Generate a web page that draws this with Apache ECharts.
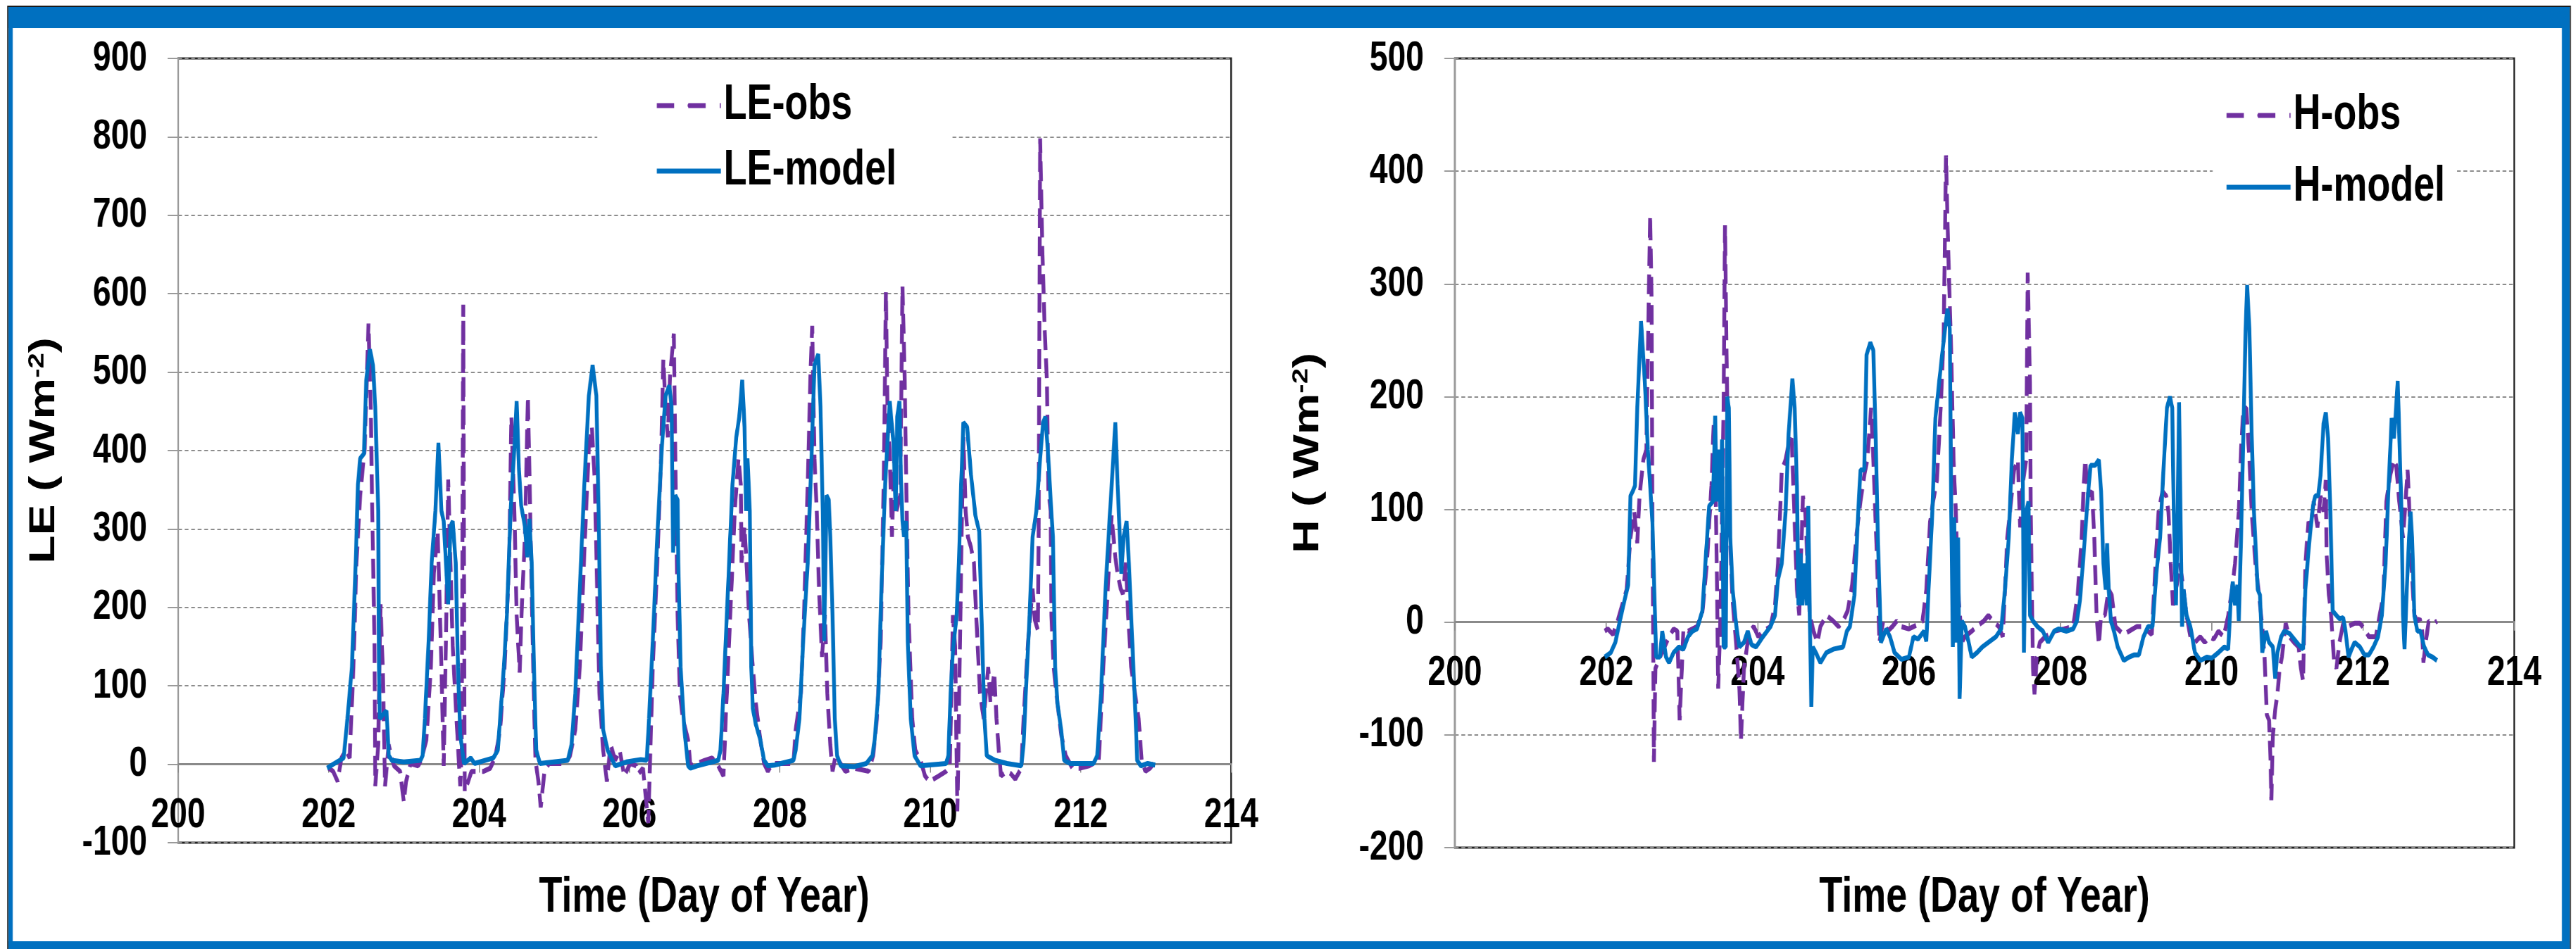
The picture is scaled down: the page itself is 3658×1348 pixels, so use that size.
<!DOCTYPE html>
<html>
<head>
<meta charset="utf-8">
<title>LE / H observed vs model</title>
<script src="https://cdn.jsdelivr.net/npm/echarts@6/dist/echarts.min.js"></script>
<style>
    html, body { margin: 0; padding: 0; background: #ffffff; overflow: hidden; }
    /* la figura original esta comprimida en horizontal: se dibuja ancha y se estrecha */
    #chart { width: 4751px; height: 1348px; transform: scaleX(0.77); transform-origin: 0 0; }
</style>
</head>
<body>
<div id="chart"></div>
<script>
/* datos: [dia del ano, valor W m-2] */
const leObs = [
    [202.00,-5],[202.06,-9],[202.12,-22],[202.17,8],[202.23,18],[202.28,8],[202.33,124],[202.37,257],[202.42,343],[202.48,403],[202.53,562],[202.56,456],[202.58,323],[202.61,157],[202.62,-28],[202.66,25],[202.69,204],[202.72,124],[202.75,-28],[202.80,25],[202.83,11],[202.87,-2],[202.95,-9],[203.00,-48],[203.03,-22],[203.09,1],[203.19,-2],[203.23,5],[203.30,31],[203.36,124],[203.40,244],[203.45,297],[203.50,124],[203.53,-2],[203.56,157],[203.59,363],[203.62,257],[203.65,151],[203.70,58],[203.75,-28],[203.77,20],[203.79,586],[203.81,-35],[203.90,-9],[204.06,-9],[204.15,-5],[204.22,11],[204.28,44],[204.34,124],[204.40,257],[204.43,443],[204.47,323],[204.50,190],[204.54,117],[204.57,204],[204.61,290],[204.65,469],[204.68,323],[204.72,124],[204.75,5],[204.79,-22],[204.82,-55],[204.87,-9],[204.93,1],[205.15,1],[205.21,11],[205.28,44],[205.34,124],[205.40,270],[205.46,403],[205.50,430],[205.54,357],[205.57,224],[205.60,91],[205.65,18],[205.70,-22],[205.75,25],[205.81,5],[205.87,18],[205.93,-15],
    [206.01,1],[206.09,-2],[206.12,-12],[206.18,-5],[206.25,-75],[206.31,124],[206.37,257],[206.42,390],[206.45,516],[206.48,456],[206.51,417],[206.54,496],[206.59,549],[206.61,390],[206.64,190],[206.67,91],[206.71,58],[206.78,31],[206.81,-2],[206.90,1],[207.00,5],[207.10,8],[207.18,-2],[207.25,-15],[207.28,58],[207.34,190],[207.40,323],[207.45,390],[207.48,357],[207.49,257],[207.53,303],[207.56,250],[207.59,190],[207.64,124],[207.68,78],[207.74,31],[207.79,1],[207.84,-9],[207.90,1],[208.06,1],[208.18,1],[208.21,44],[208.28,91],[208.32,190],[208.37,357],[208.41,509],[208.43,559],[208.46,390],[208.49,323],[208.52,224],[208.56,137],[208.60,190],[208.63,91],[208.67,25],[208.70,-9],[208.74,11],[208.87,-9],[208.99,-5],[209.18,-9],[209.24,11],[209.29,58],[209.34,157],[209.38,357],[209.41,602],[209.43,456],[209.46,397],[209.49,290],[209.52,390],[209.55,323],[209.60,343],[209.63,609],[209.66,490],[209.68,357],[209.71,190],[209.76,58],[209.80,18],[209.87,5],[209.93,-15],[209.99,-22],
    [210.11,-15],[210.21,-9],[210.26,-2],[210.30,190],[210.33,151],[210.36,-60],[210.38,58],[210.41,257],[210.44,417],[210.47,323],[210.50,290],[210.54,277],[210.58,257],[210.61,190],[210.66,91],[210.71,58],[210.77,124],[210.80,78],[210.85,117],[210.88,58],[210.91,18],[210.94,-15],[211.02,-9],[211.07,-12],[211.13,-19],[211.21,-5],[211.24,58],[211.30,157],[211.36,224],[211.39,184],[211.43,171],[211.44,290],[211.46,798],[211.49,655],[211.52,556],[211.55,489],[211.57,350],[211.60,323],[211.61,190],[211.64,124],[211.69,78],[211.74,38],[211.80,11],[211.89,-5],[211.99,-5],[212.11,-2],[212.24,5],[212.30,124],[212.36,224],[212.41,317],[212.46,264],[212.49,243],[212.53,224],[212.56,217],[212.60,257],[212.63,190],[212.67,124],[212.72,91],[212.77,58],[212.81,5],[212.86,-9],[212.92,-5],[212.97,1]
];

const leModel = [
    [201.98,-5],[202.06,0],[202.20,8],[202.25,58],[202.31,124],[202.36,257],[202.39,357],[202.42,390],[202.47,396],[202.50,489],[202.55,529],[202.59,509],[202.62,456],[202.66,323],[202.67,124],[202.68,58],[202.73,64],[202.77,68],[202.80,11],[202.84,5],[203.00,3],[203.22,5],[203.25,11],[203.28,58],[203.33,157],[203.37,257],[203.42,323],[203.46,410],[203.50,323],[203.53,310],[203.56,257],[203.59,204],[203.62,303],[203.65,310],[203.69,257],[203.72,124],[203.75,38],[203.80,1],[203.89,8],[203.94,1],[204.19,8],[204.25,18],[204.28,58],[204.33,124],[204.37,190],[204.42,323],[204.47,403],[204.50,463],[204.53,377],[204.56,330],[204.61,303],[204.64,264],[204.67,313],[204.70,257],[204.73,124],[204.76,18],[204.81,1],[205.18,5],[205.23,25],[205.28,91],[205.34,224],[205.40,357],[205.46,470],[205.51,509],[205.56,470],[205.59,323],[205.62,124],[205.65,44],[205.71,18],[205.81,-2],[205.96,3],
    [206.15,6],[206.23,5],[206.26,58],[206.31,157],[206.37,290],[206.43,403],[206.48,470],[206.53,483],[206.56,456],[206.58,270],[206.61,343],[206.64,337],[206.65,257],[206.68,124],[206.73,44],[206.78,-2],[206.81,-5],[206.90,-2],[207.18,5],[207.21,18],[207.25,91],[207.31,224],[207.37,357],[207.42,417],[207.46,443],[207.50,490],[207.53,430],[207.55,323],[207.57,390],[207.60,323],[207.62,124],[207.64,71],[207.68,51],[207.74,31],[207.79,5],[207.84,-2],[207.93,-1],[208.18,5],[208.21,18],[208.26,58],[208.31,157],[208.37,257],[208.42,390],[208.46,509],[208.51,523],[208.54,456],[208.57,323],[208.59,157],[208.62,343],[208.65,337],[208.67,290],[208.70,190],[208.73,58],[208.76,11],[208.81,-2],[208.99,-3],[209.15,1],[209.23,11],[209.26,31],[209.31,91],[209.35,224],[209.40,357],[209.46,463],[209.51,410],[209.54,323],[209.56,443],[209.59,463],[209.61,363],[209.63,310],[209.65,290],[209.68,310],[209.70,157],[209.74,58],[209.79,11],[209.87,-2],
    [210.21,1],[210.24,11],[210.27,91],[210.30,144],[210.35,190],[210.38,257],[210.41,357],[210.44,436],[210.49,430],[210.54,370],[210.60,317],[210.65,297],[210.68,190],[210.72,58],[210.75,11],[210.86,5],[211.02,1],[211.21,-2],[211.24,25],[211.27,91],[211.32,190],[211.36,290],[211.41,323],[211.46,390],[211.50,436],[211.53,443],[211.57,390],[211.60,337],[211.63,290],[211.66,124],[211.69,78],[211.74,44],[211.78,5],[211.86,1],[212.17,1],[212.22,11],[212.27,91],[212.33,224],[212.39,323],[212.42,370],[212.46,436],[212.49,357],[212.52,290],[212.54,243],[212.57,290],[212.61,310],[212.64,257],[212.67,190],[212.70,124],[212.73,58],[212.75,5],[212.80,-2],[212.89,1],[212.99,-1]
];

const hObs = [
    [201.98,-8],[202.02,-6],[202.09,-11],[202.15,1],[202.21,15],[202.27,29],[202.32,75],[202.37,98],[202.41,70],[202.44,112],[202.49,144],[202.53,153],[202.55,237],[202.58,361],[202.60,283],[202.61,98],[202.63,-124],[202.65,-41],[202.71,-31],[202.77,-22],[202.83,-13],[202.89,-6],[202.94,-8],[202.97,-87],[202.99,-55],[203.02,-6],[203.08,-8],[203.14,-6],[203.20,-4],[203.27,8],[203.33,52],[203.39,121],[203.42,176],[203.44,144],[203.46,52],[203.48,-59],[203.51,6],[203.55,190],[203.57,352],[203.59,237],[203.62,98],[203.67,19],[203.72,-22],[203.76,-59],[203.78,-105],[203.82,-41],[203.89,-8],[203.95,-4],[204.01,-13],[204.07,-8],[204.17,-4],[204.23,15],[204.27,52],[204.32,135],[204.37,144],[204.41,158],[204.45,163],[204.48,107],[204.52,29],[204.55,6],[204.60,112],[204.63,98],[204.66,52],[204.69,6],[204.74,-8],[204.79,-18],[204.83,-4],[204.91,6],[205.00,1],[205.07,-4],[205.13,1],[205.19,10],[205.25,33],[205.31,79],[205.36,107],[205.41,130],[205.45,144],[205.50,190],[205.53,144],[205.58,52],[205.61,-18],[205.66,1],[205.72,-8],[205.78,-4],[205.84,1],[205.90,-4],
    [206.00,-6],[206.06,-4],[206.12,-2],[206.18,1],[206.23,29],[206.28,89],[206.32,107],[206.37,126],[206.42,190],[206.46,255],[206.49,414],[206.52,329],[206.56,237],[206.59,144],[206.62,98],[206.65,29],[206.70,-18],[206.74,-13],[206.83,-8],[206.93,-2],[206.99,1],[207.05,6],[207.11,1],[207.19,-4],[207.24,-13],[207.27,29],[207.30,75],[207.35,107],[207.39,135],[207.44,144],[207.47,84],[207.50,121],[207.55,144],[207.57,310],[207.60,213],[207.61,98],[207.63,6],[207.64,-41],[207.66,-64],[207.69,-31],[207.73,-18],[207.80,-13],[207.92,-8],[208.05,-6],[208.17,-4],[208.23,24],[208.28,70],[208.31,121],[208.33,144],[208.37,112],[208.42,116],[208.45,75],[208.48,6],[208.51,-20],[208.54,6],[208.59,6],[208.64,29],[208.68,24],[208.73,-4],[208.79,-8],[208.84,-11],[208.91,-8],[209.01,-4],[209.10,-4],[209.16,-8],[209.21,-11],[209.26,52],[209.30,98],[209.35,116],[209.40,112],[209.43,98],[209.46,52],[209.49,15],[209.54,33],[209.58,52],[209.63,29],[209.67,6],[209.72,-13],[209.78,-18],[209.85,-13],[209.91,-18],[209.97,-13],
    [210.03,-15],[210.09,-8],[210.16,-13],[210.22,6],[210.27,29],[210.31,52],[210.36,98],[210.39,153],[210.42,190],[210.46,190],[210.50,144],[210.53,98],[210.58,52],[210.62,29],[210.67,-4],[210.70,-31],[210.73,-82],[210.76,-87],[210.78,-124],[210.79,-158],[210.81,-101],[210.84,-78],[210.87,-64],[210.90,-41],[210.93,-31],[210.98,-1],[211.03,-13],[211.09,-18],[211.15,-22],[211.18,-41],[211.21,-52],[211.24,52],[211.28,89],[211.31,84],[211.35,107],[211.40,84],[211.44,112],[211.48,98],[211.51,126],[211.52,61],[211.55,24],[211.58,6],[211.62,-36],[211.65,-41],[211.69,-18],[211.74,-1],[211.80,-4],[211.89,-1],[211.96,-1],[212.02,-6],[212.08,-13],[212.17,-13],[212.27,24],[212.31,107],[212.36,130],[212.41,144],[212.44,139],[212.48,107],[212.53,75],[212.56,103],[212.59,135],[212.61,107],[212.64,52],[212.68,6],[212.72,1],[212.75,3],[212.78,-4],[212.80,-36],[212.83,-18],[212.87,1],[212.94,-1],[212.98,1]
];

const hModel = [
    [201.98,-31],[202.06,-27],[202.12,-18],[202.18,1],[202.24,19],[202.29,33],[202.32,112],[202.35,116],[202.38,121],[202.41,190],[202.46,267],[202.51,213],[202.55,153],[202.61,89],[202.66,-31],[202.71,-31],[202.74,-8],[202.79,-31],[202.83,-36],[202.89,-27],[202.96,-22],[203.02,-24],[203.08,-13],[203.14,-8],[203.20,-6],[203.27,10],[203.31,52],[203.36,103],[203.41,107],[203.44,183],[203.46,107],[203.48,153],[203.51,98],[203.53,162],[203.55,-22],[203.58,-22],[203.60,200],[203.62,190],[203.64,75],[203.67,29],[203.72,-4],[203.76,-22],[203.82,-18],[203.87,-8],[203.92,-20],[203.98,-22],[204.07,-13],[204.17,-4],[204.23,6],[204.27,38],[204.32,52],[204.37,98],[204.41,167],[204.46,216],[204.49,190],[204.52,121],[204.54,15],[204.57,61],[204.59,15],[204.62,52],[204.65,15],[204.67,103],[204.69,6],[204.71,-75],[204.73,-22],[204.77,-27],[204.83,-36],[204.91,-27],[205.00,-24],[205.13,-22],[205.18,-8],[205.22,-4],[205.28,24],[205.33,98],[205.36,135],[205.41,135],[205.44,237],[205.49,248],[205.53,241],[205.56,167],[205.59,75],[205.63,-18],[205.70,-6],[205.75,-13],[205.81,-27],[205.90,-33],
    [206.00,-31],[206.06,-13],[206.12,-15],[206.20,-8],[206.23,-17],[206.26,29],[206.31,98],[206.35,181],[206.40,213],[206.46,250],[206.51,278],[206.54,260],[206.56,98],[206.58,-22],[206.60,93],[206.62,-18],[206.65,75],[206.67,-68],[206.70,1],[206.74,-4],[206.79,-18],[206.83,-31],[206.90,-27],[206.97,-22],[207.05,-18],[207.15,-13],[207.22,-6],[207.27,29],[207.32,75],[207.36,144],[207.40,186],[207.44,167],[207.47,186],[207.50,181],[207.52,-27],[207.55,98],[207.58,107],[207.60,6],[207.64,1],[207.70,-4],[207.77,-8],[207.84,-18],[207.92,-8],[207.98,-6],[208.08,-8],[208.17,-6],[208.22,1],[208.26,19],[208.31,61],[208.36,107],[208.40,139],[208.46,139],[208.51,144],[208.54,116],[208.57,52],[208.60,29],[208.62,70],[208.64,29],[208.67,1],[208.71,-8],[208.76,-22],[208.84,-34],[208.91,-31],[208.98,-29],[209.04,-29],[209.10,-13],[209.16,-4],[209.22,-4],[209.27,43],[209.32,75],[209.36,130],[209.41,190],[209.45,200],[209.48,190],[209.50,98],[209.53,15],[209.55,89],[209.57,195],[209.59,98],[209.61,-4],[209.63,29],[209.67,6],[209.72,-4],[209.78,-27],[209.85,-34],[209.94,-31],
    [210.00,-32],[210.09,-27],[210.17,-22],[210.22,-24],[210.25,15],[210.28,36],[210.31,15],[210.34,33],[210.36,1],[210.39,75],[210.42,167],[210.45,260],[210.47,299],[210.50,260],[210.53,167],[210.56,98],[210.61,29],[210.64,24],[210.67,-27],[210.72,-8],[210.76,-18],[210.81,-22],[210.84,-50],[210.87,-27],[210.92,-13],[210.96,-8],[211.03,-10],[211.09,-15],[211.15,-20],[211.21,-24],[211.24,29],[211.29,70],[211.34,103],[211.37,112],[211.41,112],[211.44,130],[211.48,176],[211.51,186],[211.54,163],[211.57,98],[211.60,10],[211.65,6],[211.69,3],[211.74,4],[211.77,-8],[211.81,-31],[211.85,-24],[211.89,-18],[211.96,-22],[212.02,-29],[212.08,-29],[212.14,-22],[212.20,-13],[212.25,6],[212.30,52],[212.34,121],[212.38,181],[212.41,163],[212.43,181],[212.46,214],[212.48,167],[212.51,98],[212.53,6],[212.55,-24],[212.58,29],[212.61,75],[212.63,98],[212.65,75],[212.68,6],[212.72,-8],[212.76,-8],[212.81,-22],[212.86,-29],[212.92,-31],[212.98,-34]
];

/* ejes */
const dayMin = 200, dayMax = 214, dayStep = 2;
const leMin = -100, leMax = 900;
const hMin = -200, hMax = 500;
const yStep = 100;

const SX = 0.77;               // mismo valor que el scaleX del css
const ux = v => v / SX;        // px de pantalla -> px del lienzo sin comprimir
const H = 1348;

const OBS_COLOR = '#7030A0';
const MODEL_COLOR = '#0070C0';
const FRAME_COLOR = '#0070C0';
const FONT = '"Liberation Sans", Arial, sans-serif';
const OBS_DASH = [28, 12];
const LEGEND_DASH = [32, 26];

/* cajas de los dos paneles en px de pantalla */
const panels = [
    { left: 253, right: 1748, top: 83, bottom: 1197 },
    { left: 2066, right: 3570, top: 83, bottom: 1204 }
];

function makeGrid(p) {
    return {
        left: ux(p.left), right: ux(3658 - p.right), top: p.top, bottom: H - p.bottom,
        show: true, borderColor: '#222', borderWidth: 3
    };
}

/* el eje x va sobre la linea de cero */
function makeXAxis(i, yMin, yMax) {
    const p = panels[i];
    const zeroShift = (p.bottom - p.top) * (0 - yMin) / (yMax - yMin);
    return {
        type: 'value', gridIndex: i,
        min: dayMin, max: dayMax, interval: dayStep,
        offset: -zeroShift,
        axisLine: { onZero: false, lineStyle: { color: '#8a8a8a', width: 3 } },
        axisTick: { show: true, length: 12, lineStyle: { color: '#8a8a8a', width: 2 } },
        axisLabel: {
            margin: 43, color: '#000', fontSize: 60, fontWeight: 'bold', fontFamily: FONT,
            showMinLabel: true, showMaxLabel: true
        },
        splitLine: { show: false }
    };
}

function makeYAxis(i, min, max, label, gap) {
    return {
        type: 'value', gridIndex: i,
        min: min, max: max, interval: yStep,
        name: '{t|' + label + ' ( Wm}{s|-2}{t|)}',
        nameLocation: 'middle', nameRotate: 90, nameGap: gap,
        nameTextStyle: {
            rich: {
                t: { fontSize: 66, fontWeight: 'bold', fontFamily: FONT, color: '#000' },
                s: { fontSize: 40, fontWeight: 'bold', fontFamily: FONT, color: '#000', verticalAlign: 'top' }
            }
        },
        axisLine: { show: true, onZero: false, lineStyle: { color: '#9a9a9a', width: 3 } },
        axisTick: { show: true, length: ux(15), lineStyle: { color: '#9a9a9a', width: 2 } },
        axisLabel: {
            margin: ux(44), color: '#000', fontSize: 60, fontWeight: 'bold', fontFamily: FONT,
            showMinLabel: true, showMaxLabel: true
        },
        splitLine: { show: true, lineStyle: { color: '#8c8c8c', width: 2, type: [7, 5] } }
    };
}

function makeSeries(name, data, i, obs) {
    return {
        name: name, type: 'line', xAxisIndex: i, yAxisIndex: i,
        data: data, symbol: 'none', showSymbol: false,
        z: obs ? 2 : 3,
        itemStyle: { color: obs ? OBS_COLOR : MODEL_COLOR },
        lineStyle: obs ? { color: OBS_COLOR, width: 7, type: OBS_DASH }
                       : { color: MODEL_COLOR, width: 7 }
    };
}

function makeLegend(names, left, top, padding, gap) {
    return {
        data: [
            { name: names[0], lineStyle: { type: LEGEND_DASH } },
            { name: names[1] }
        ],
        orient: 'vertical', left: ux(left), top: top,
        padding: [padding[0], ux(padding[1]), padding[2], ux(padding[3])],
        itemGap: gap, itemWidth: ux(91), itemHeight: 6,
        backgroundColor: '#ffffff',
        lineStyle: { width: 7 },
        textStyle: { fontSize: 70, fontWeight: 'bold', fontFamily: FONT, color: '#000', lineHeight: 80 }
    };
}

function titleText(x, text) {
    return {
        type: 'text', x: ux(x), y: 1276, z: 10,
        style: {
            text: text, fill: '#000',
            fontSize: 70, fontWeight: 'bold', fontFamily: FONT,
            align: 'center', verticalAlign: 'middle',
            textAlign: 'center', textVerticalAlign: 'middle'
        }
    };
}

/* marco azul */
function frameRect(x, y, w, h) {
    return { type: 'rect', z: 20, shape: { x: ux(x), y: y, width: ux(w), height: h }, style: { fill: FRAME_COLOR } };
}

window.renderFluxCharts = function () {
    const el = document.getElementById('chart');
    if (!el) return;
    const chart = echarts.init(el, null, { renderer: 'canvas' });

    const option = {
        animation: false,
        backgroundColor: '#ffffff',
        grid: [makeGrid(panels[0]), makeGrid(panels[1])],
        xAxis: [makeXAxis(0, leMin, leMax), makeXAxis(1, hMin, hMax)],
        yAxis: [makeYAxis(0, leMin, leMax, 'LE', 214), makeYAxis(1, hMin, hMax, 'H', 237)],
        legend: [
            makeLegend(['LE-obs', 'LE-model'], 848, 95, [15, 78, 10, 82], 13),
            makeLegend(['H-obs', 'H-model'], 3142, 110, [14, 14, 10, 17], 22)
        ],
        series: [
            makeSeries('LE-obs', leObs, 0, true),
            makeSeries('LE-model', leModel, 0, false),
            makeSeries('H-obs', hObs, 1, true),
            makeSeries('H-model', hModel, 1, false)
        ],
        graphic: [
            titleText(1000, 'Time (Day of Year)'),
            titleText(2818, 'Time (Day of Year)'),
            frameRect(12, 10, 3637, 30),
            frameRect(12, 10, 6, 1338),
            frameRect(3638, 10, 11, 1338),
            frameRect(12, 1337, 3637, 11),
            { type: 'rect', z: 21, shape: { x: ux(11), y: 9, width: ux(3639), height: 1345 },
              style: { fill: 'none', stroke: '#1a1a1a', lineWidth: 2 } }
        ]
    };

    chart.setOption(option);
    chart.resize();
};

window.renderFluxCharts();
</script>
</body>
</html>
